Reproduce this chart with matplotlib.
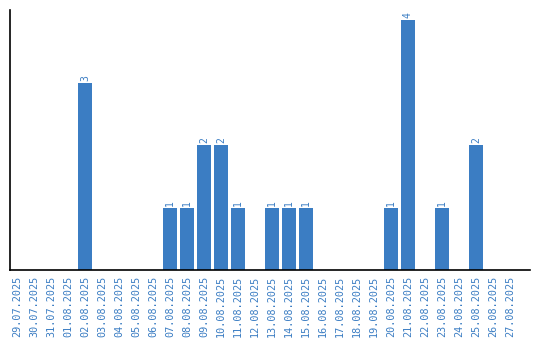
import matplotlib
matplotlib.use('Agg')
import matplotlib.pyplot as plt
import numpy as np

dates = ['29.07.2025', '30.07.2025', '31.07.2025', '01.08.2025', '02.08.2025',
         '03.08.2025', '04.08.2025', '05.08.2025', '06.08.2025', '07.08.2025',
         '08.08.2025', '09.08.2025', '10.08.2025', '11.08.2025', '12.08.2025',
         '13.08.2025', '14.08.2025', '15.08.2025', '16.08.2025', '17.08.2025',
         '18.08.2025', '19.08.2025', '20.08.2025', '21.08.2025', '22.08.2025',
         '23.08.2025', '24.08.2025', '25.08.2025', '26.08.2025', '27.08.2025']
counts = [0, 0, 0, 0, 3, 0, 0, 0, 0, 1,
          1, 2, 2, 1, 0, 1, 1, 1, 0, 0,
          0, 0, 1, 4, 0, 1, 0, 2, 0, 0]

blue = '#3b7dc3'

fig = plt.figure(figsize=(5.4, 3.4), dpi=100)
ax = fig.add_axes([10 / 540, 70 / 340, 520 / 540, 260 / 340])

x = np.arange(len(dates))
bars = ax.bar(x, counts, width=0.82, color=blue)

# etiquetas de valor acima das barras
for xi, c in zip(x, counts):
    if c > 0:
        ax.text(xi, c + 0.03, str(c), rotation=90, ha='center', va='bottom',
                color=blue, fontsize=7, family='DejaVu Sans Mono')

ax.set_xlim(-0.41, 30.18)
ax.set_ylim(0, 4.16)
ax.set_xticks(x)
ax.set_xticklabels(dates, rotation=90, color=blue, fontsize=7.3,
                   family='DejaVu Sans Mono')
ax.tick_params(axis='x', length=0, pad=4)
ax.set_yticks([])
ax.spines['top'].set_visible(False)
ax.spines['right'].set_visible(False)
ax.spines['left'].set_linewidth(1.2)
ax.spines['bottom'].set_linewidth(1.2)

fig.savefig('out.png', dpi=100)
